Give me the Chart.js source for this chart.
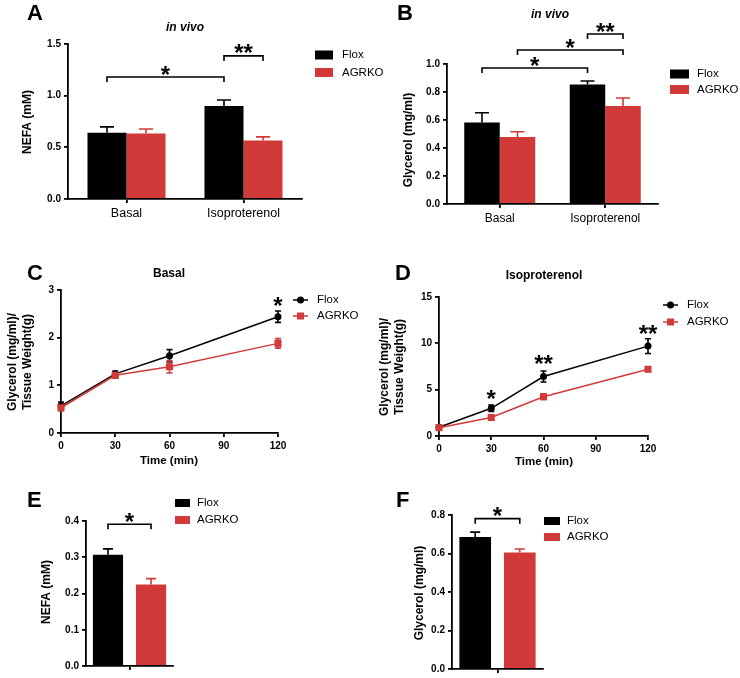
<!DOCTYPE html>
<html>
<head>
<meta charset="utf-8">
<script src="https://cdn.jsdelivr.net/npm/chart.js@4.4.0/dist/chart.umd.min.js"></script>
<style>
  body { margin: 0; background: #fff; width: 740px; height: 678px; position: relative; overflow: hidden; }
  canvas { position: absolute; }
</style>
</head>
<body>
<canvas id="chartA" width="400" height="230" style="left:0;top:0"></canvas>
<canvas id="chartB" width="370" height="230" style="left:370px;top:0"></canvas>
<canvas id="chartC" width="370" height="240" style="left:0;top:230px"></canvas>
<canvas id="chartD" width="370" height="240" style="left:370px;top:230px"></canvas>
<canvas id="chartE" width="370" height="208" style="left:0;top:470px"></canvas>
<canvas id="chartF" width="370" height="208" style="left:370px;top:470px"></canvas>
<script>
'use strict';

// ----- data -----
const seriesNames = ['Flox', 'AGRKO'];
const barGroups = ['Basal', 'Isoproterenol'];
const singleGroup = [''];
const timePoints = [0, 30, 60, 120];

// A: NEFA in vivo
const nefaFlox = [0.64, 0.90];
const nefaFloxErr = [0.058, 0.058];
const nefaKo = [0.635, 0.565];
const nefaKoErr = [0.042, 0.036];
// B: glycerol in vivo
const glyFlox = [0.583, 0.853];
const glyFloxErr = [0.069, 0.026];
const glyKo = [0.478, 0.70];
const glyKoErr = [0.038, 0.057];
// C: basal time course
const basalFlox = [0.57, 1.24, 1.62, 2.44];
const basalFloxErr = [0.08, 0.06, 0.13, 0.12];
const basalKo = [0.53, 1.21, 1.39, 1.88];
const basalKoErr = [0.06, 0.06, 0.13, 0.10];
// D: isoproterenol time course
const isoFlox = [0.94, 2.99, 6.42, 9.70];
const isoFloxErr = [0.20, 0.35, 0.60, 0.80];
const isoKo = [0.90, 2.00, 4.24, 7.20];
const isoKoErr = [0.15, 0.15, 0.30, 0.20];
// E / F
const exNefa = [[0.307], [0.225]];
const exNefaErr = [[0.016], [0.016]];
const exGly = [[0.686], [0.605]];
const exGlyErr = [[0.025], [0.018]];

// tick values
const ticksA = [0, 0.5, 1.0, 1.5];
const ticksB = [0, 0.2, 0.4, 0.6, 0.8, 1.0];
const ticksC = [0, 1, 2, 3];
const ticksD = [0, 5, 10, 15];
const ticksE = [0, 0.1, 0.2, 0.3, 0.4];
const ticksF = [0, 0.2, 0.4, 0.6, 0.8];
const timeTicks = [0, 30, 60, 90, 120];

const FONT = "'Liberation Sans', Arial, Helvetica, sans-serif";
const BLACK = '#000000';
const RED = '#d23a3a';
const colors = [BLACK, RED];

Chart.defaults.font.family = FONT;
Chart.defaults.color = '#000';

/* ----------------------------------------------------------
   decorations: letters, titles, legend, error bars, brackets
   (positions given in page coordinates)
   ---------------------------------------------------------- */
function drawErrors(chart, cfg) {
  const ctx = chart.ctx;
  const y = chart.scales.y;
  ctx.save();
  ctx.lineWidth = 1.6;
  chart.data.datasets.forEach((ds, i) => {
    const meta = chart.getDatasetMeta(i);
    ctx.strokeStyle = ds.borderColor || ds.backgroundColor;
    meta.data.forEach((el, j) => {
      const v = cfg.line ? ds.data[j].y : ds.data[j];
      const e = ds.errors[j];
      const top = y.getPixelForValue(v + e);
      const bot = cfg.line ? y.getPixelForValue(v - e) : el.y;
      const c = cfg.cap / 2;
      ctx.beginPath();
      ctx.moveTo(el.x, bot); ctx.lineTo(el.x, top);
      ctx.moveTo(el.x - c, top); ctx.lineTo(el.x + c, top);
      if (cfg.line) { ctx.moveTo(el.x - c, bot); ctx.lineTo(el.x + c, bot); }
      ctx.stroke();
    });
  });
  ctx.restore();
}

// asterisks: (cx, cy) is the centre of the glyph
function starText(ctx, text, cx, cy) {
  ctx.font = 'bold 24px ' + FONT;
  ctx.textAlign = 'center';
  ctx.textBaseline = 'alphabetic';
  ctx.fillText(text, cx, cy + 13.5);
}

function decor(cfg) {
  return {
    id: 'decor',
    beforeDatasetsDraw(chart) { if (cfg.line) drawErrors(chart, cfg); },
    afterDatasetsDraw(chart) {
      if (!cfg.line) drawErrors(chart, cfg);
      const ctx = chart.ctx;
      const y = chart.scales.y;
      ctx.save();
      ctx.translate(-cfg.ox, -cfg.oy);
      ctx.fillStyle = '#000';
      ctx.strokeStyle = '#000';

      // panel letter
      ctx.font = 'bold 22px ' + FONT;
      ctx.textAlign = 'left';
      ctx.textBaseline = 'alphabetic';
      ctx.fillText(cfg.letter.text, cfg.letter.x, cfg.letter.y);

      // title
      if (cfg.title) {
        ctx.font = (cfg.title.italic ? 'italic ' : '') + 'bold 12px ' + FONT;
        ctx.textAlign = 'center';
        ctx.textBaseline = 'middle';
        ctx.fillText(cfg.title.text, cfg.title.x, cfg.title.y);
      }

      // y title
      ctx.save();
      ctx.translate(cfg.ytitle.x, cfg.ytitle.y);
      ctx.rotate(-Math.PI / 2);
      ctx.font = 'bold 12px ' + FONT;
      ctx.textAlign = 'center';
      ctx.textBaseline = 'middle';
      const n = cfg.ytitle.lines.length;
      cfg.ytitle.lines.forEach((t, i) => ctx.fillText(t, 0, (i - (n - 1) / 2) * 15));
      ctx.restore();

      // x title
      if (cfg.xtitle) {
        ctx.font = 'bold 11.5px ' + FONT;
        ctx.textAlign = 'center';
        ctx.textBaseline = 'middle';
        ctx.fillText(cfg.xtitle.text, cfg.xtitle.x, cfg.xtitle.y);
      }

      // legend
      const lg = cfg.legend;
      chart.data.datasets.forEach((ds, i) => {
        const ly = lg.y[i];
        const col = ds.borderColor || ds.backgroundColor;
        ctx.fillStyle = col;
        ctx.strokeStyle = col;
        if (cfg.line) {
          ctx.lineWidth = 1.5;
          ctx.beginPath(); ctx.moveTo(lg.x, ly); ctx.lineTo(lg.x + lg.w, ly); ctx.stroke();
          const mx = lg.x + lg.w / 2;
          ctx.beginPath();
          if (ds.pointStyle === 'rect') ctx.rect(mx - 3.5, ly - 3.5, 7, 7);
          else ctx.arc(mx, ly, 3.5, 0, Math.PI * 2);
          ctx.fill();
        } else {
          ctx.fillRect(lg.x, ly - lg.h / 2, lg.w, lg.h);
        }
        ctx.fillStyle = '#000';
        ctx.font = '11.5px ' + FONT;
        ctx.textAlign = 'left';
        ctx.textBaseline = 'middle';
        ctx.fillText(ds.label, lg.tx, ly);
      });

      // significance brackets (bar charts)
      ctx.fillStyle = '#000';
      ctx.strokeStyle = '#000';
      ctx.lineWidth = 1.6;
      (cfg.brackets || []).forEach(b => {
        const x1 = chart.getDatasetMeta(b.from[0]).data[b.from[1]].x + cfg.ox;
        const x2 = chart.getDatasetMeta(b.to[0]).data[b.to[1]].x + cfg.ox;
        const by = y.getPixelForValue(b.y) + cfg.oy;
        ctx.beginPath();
        ctx.moveTo(x1, by + 5); ctx.lineTo(x1, by); ctx.lineTo(x2, by); ctx.lineTo(x2, by + 5);
        ctx.stroke();
        starText(ctx, b.mark, (x1 + x2) / 2, by - 8);
      });

      // stars over time points (line charts)
      (cfg.stars || []).forEach(s => {
        const sx = chart.scales.x.getPixelForValue(s.x) + cfg.ox;
        const sy = y.getPixelForValue(s.y) + cfg.oy;
        starText(ctx, s.mark, sx, sy);
      });
      ctx.restore();
    }
  };
}

/* ----------------------------------------------------------
   axes
   ---------------------------------------------------------- */
const axisLine = { color: '#000', width: 1.8 };
const tickGrid = { drawOnChartArea: false, drawTicks: true, tickLength: 4, color: '#000', lineWidth: 1.8, offset: false };

function valueAxis(ticks, size, horizontal, fmt) {
  return {
    type: 'linear',
    min: ticks[0],
    max: ticks[ticks.length - 1],
    afterBuildTicks: s => { s.ticks = ticks.map(v => ({ value: v })); },
    afterFit: s => { if (horizontal) s.height = size; else s.width = size; },
    border: axisLine,
    grid: tickGrid,
    ticks: { font: { size: 10, weight: 'bold' }, color: '#000', padding: 3, callback: v => fmt(v) }
  };
}

function groupAxis(height, fontSize) {
  return {
    type: 'category',
    offset: true,
    afterFit: s => { s.height = height; },
    border: axisLine,
    grid: tickGrid,
    ticks: { font: { size: fontSize }, color: '#000', padding: 3 }
  };
}

const fix1 = v => v.toFixed(1);
const plain = v => String(v);

/* ----------------------------------------------------------
   panel builders
   ---------------------------------------------------------- */
function barPanel(id, p) {
  const el = document.getElementById(id);
  const W = el.width, H = el.height;
  new Chart(el, {
    type: 'bar',
    data: {
      labels: p.labels,
      datasets: p.values.map((vals, i) => ({
        label: seriesNames[i],
        data: vals,
        errors: p.errors[i],
        backgroundColor: colors[i],
        borderWidth: 0,
        barPercentage: p.barPct,
        categoryPercentage: p.catPct
      }))
    },
    options: {
      responsive: false,
      animation: false,
      devicePixelRatio: 1,
      events: [],
      layout: { padding: { left: 0, top: p.plot.t - p.oy, right: p.ox + W - p.plot.r, bottom: 0 } },
      plugins: { legend: { display: false }, tooltip: { enabled: false } },
      scales: {
        x: groupAxis(p.oy + H - p.plot.b, p.catFont),
        y: valueAxis(p.ticks, p.plot.l - p.ox, false, fix1)
      }
    },
    plugins: [decor({ ...p.decor, ox: p.ox, oy: p.oy, cap: p.cap, line: false })]
  });
}

function linePanel(id, p) {
  const el = document.getElementById(id);
  const W = el.width, H = el.height;
  const styles = ['circle', 'rect'];
  const radii = [3.5, 5];
  new Chart(el, {
    type: 'line',
    data: {
      datasets: p.values.map((vals, i) => ({
        label: seriesNames[i],
        data: timePoints.map((t, j) => ({ x: t, y: vals[j] })),
        errors: p.errors[i],
        borderColor: colors[i],
        backgroundColor: colors[i],
        pointBackgroundColor: colors[i],
        pointBorderColor: colors[i],
        pointBorderWidth: 0,
        pointStyle: styles[i],
        pointRadius: radii[i],
        borderWidth: 1.5,
        tension: 0,
        clip: false,
        order: 2 - i
      }))
    },
    options: {
      responsive: false,
      animation: false,
      devicePixelRatio: 1,
      events: [],
      layout: { padding: { left: 0, top: p.plot.t - p.oy, right: p.ox + W - p.plot.r, bottom: 0 } },
      plugins: { legend: { display: false }, tooltip: { enabled: false } },
      scales: {
        x: valueAxis(timeTicks, p.oy + H - p.plot.b, true, plain),
        y: valueAxis(p.ticks, p.plot.l - p.ox, false, plain)
      }
    },
    plugins: [decor({ ...p.decor, ox: p.ox, oy: p.oy, cap: 6, line: true })]
  });
}

/* ----------------------------------------------------------
   A. NEFA in vivo
   ---------------------------------------------------------- */
barPanel('chartA', {
  ox: 0, oy: 0, plot: { l: 68, t: 44, r: 302, b: 199 },
  labels: barGroups, values: [nefaFlox, nefaKo], errors: [nefaFloxErr, nefaKoErr],
  ticks: ticksA, barPct: 1.0, catPct: 0.667, cap: 14, catFont: 12.5,
  decor: {
    letter: { text: 'A', x: 27, y: 20 },
    title: { text: 'in vivo', x: 185, y: 28, italic: true },
    ytitle: { x: 28, y: 122, lines: ['NEFA (mM)'] },
    legend: { x: 315, y: [55, 72.5], w: 18, h: 9, tx: 342 },
    brackets: [
      { from: [0, 0], to: [0, 1], y: 1.18, mark: '*' },
      { from: [0, 1], to: [1, 1], y: 1.385, mark: '**' }
    ]
  }
});

/* ----------------------------------------------------------
   B. Glycerol in vivo
   ---------------------------------------------------------- */
barPanel('chartB', {
  ox: 370, oy: 0, plot: { l: 447, t: 64, r: 658, b: 204 },
  labels: barGroups, values: [glyFlox, glyKo], errors: [glyFloxErr, glyKoErr],
  ticks: ticksB, barPct: 1.0, catPct: 0.673, cap: 14, catFont: 12,
  decor: {
    letter: { text: 'B', x: 397, y: 20 },
    title: { text: 'in vivo', x: 550, y: 15, italic: true },
    ytitle: { x: 409, y: 140, lines: ['Glycerol (mg/ml)'] },
    legend: { x: 670, y: [74, 89.5], w: 19, h: 9, tx: 697 },
    brackets: [
      { from: [0, 0], to: [0, 1], y: 0.971, mark: '*' },
      { from: [1, 0], to: [1, 1], y: 1.10, mark: '*' },
      { from: [0, 1], to: [1, 1], y: 1.214, mark: '**' }
    ]
  }
});

/* ----------------------------------------------------------
   C. Basal time course
   ---------------------------------------------------------- */
linePanel('chartC', {
  ox: 0, oy: 230, plot: { l: 61, t: 290, r: 278, b: 433 },
  values: [basalFlox, basalKo], errors: [basalFloxErr, basalKoErr], ticks: ticksC,
  decor: {
    letter: { text: 'C', x: 27, y: 280 },
    title: { text: 'Basal', x: 169, y: 274 },
    ytitle: { x: 20.5, y: 362, lines: ['Glycerol (mg/ml)/', 'Tissue Weight(g)'] },
    xtitle: { text: 'Time (min)', x: 169, y: 461 },
    legend: { x: 293, y: [300, 316], w: 15, tx: 317 },
    stars: [{ x: 120, y: 2.77, mark: '*' }]
  }
});

/* ----------------------------------------------------------
   D. Isoproterenol time course
   ---------------------------------------------------------- */
linePanel('chartD', {
  ox: 370, oy: 230, plot: { l: 439, t: 297, r: 648, b: 436 },
  values: [isoFlox, isoKo], errors: [isoFloxErr, isoKoErr], ticks: ticksD,
  decor: {
    letter: { text: 'D', x: 395, y: 280 },
    title: { text: 'Isoproterenol', x: 544, y: 276 },
    ytitle: { x: 392.5, y: 367, lines: ['Glycerol (mg/ml)/', 'Tissue Weight(g)'] },
    xtitle: { text: 'Time (min)', x: 544, y: 462 },
    legend: { x: 663, y: [305, 322], w: 15, tx: 687 },
    stars: [
      { x: 30, y: 4.64, mark: '*' },
      { x: 60, y: 8.31, mark: '**' },
      { x: 120, y: 11.55, mark: '**' }
    ]
  }
});

/* ----------------------------------------------------------
   E. NEFA
   ---------------------------------------------------------- */
barPanel('chartE', {
  ox: 0, oy: 470, plot: { l: 86, t: 521, r: 173, b: 666 },
  labels: singleGroup, values: exNefa, errors: exNefaErr,
  ticks: ticksE, barPct: 0.70, catPct: 0.99, cap: 10, catFont: 10,
  decor: {
    letter: { text: 'E', x: 27, y: 507 },
    ytitle: { x: 47, y: 592, lines: ['NEFA (mM)'] },
    legend: { x: 175, y: [503, 520], w: 15, h: 8, tx: 197 },
    brackets: [{ from: [0, 0], to: [1, 0], y: 0.391, mark: '*' }]
  }
});

/* ----------------------------------------------------------
   F. Glycerol
   ---------------------------------------------------------- */
barPanel('chartF', {
  ox: 370, oy: 470, plot: { l: 452, t: 515, r: 543, b: 669 },
  labels: singleGroup, values: exGly, errors: exGlyErr,
  ticks: ticksF, barPct: 0.71, catPct: 0.98, cap: 10, catFont: 10,
  decor: {
    letter: { text: 'F', x: 396, y: 507 },
    ytitle: { x: 420, y: 593, lines: ['Glycerol (mg/ml)'] },
    legend: { x: 544, y: [521, 537], w: 16, h: 8, tx: 567 },
    brackets: [{ from: [0, 0], to: [1, 0], y: 0.781, mark: '*' }]
  }
});
</script>
</body>
</html>
